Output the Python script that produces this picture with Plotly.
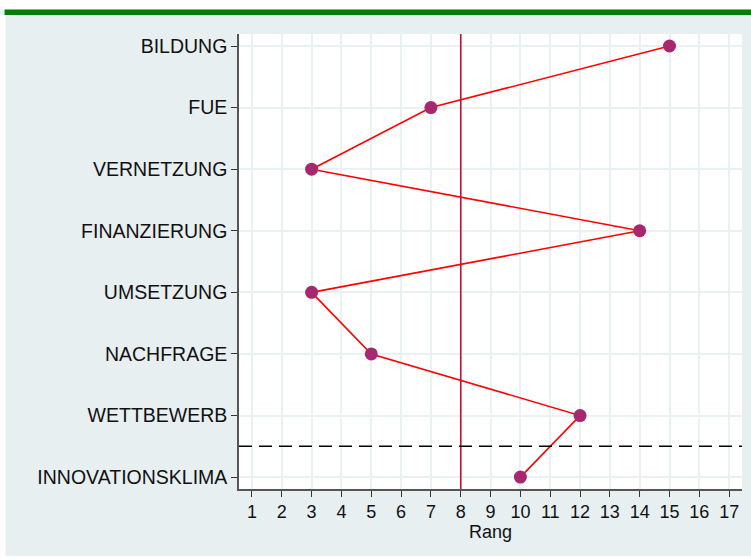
import plotly.graph_objects as go

# categories from bottom to top
categories = ['INNOVATIONSKLIMA', 'WETTBEWERB', 'NACHFRAGE', 'UMSETZUNG',
              'FINANZIERUNG', 'VERNETZUNG', 'FUE', 'BILDUNG']
rang = [10, 12, 5, 3, 14, 3, 7, 15]
x_ticks = list(range(1, 18))
rang_ref = 8

bg = '#e8eff1'
grid = '#eaf1f3'

fig = go.Figure()

fig.add_trace(go.Scatter(
    x=rang,
    y=categories,
    mode='lines+markers',
    line=dict(color='#ff0000', width=1.6),
    marker=dict(color='#a8286f', size=13),
    hoverinfo='skip',
    showlegend=False,
))

# reference lines
fig.add_shape(type='line', xref='x', yref='paper', x0=rang_ref, x1=rang_ref, y0=0, y1=1,
              line=dict(color='#c8102e', width=1.6))
fig.add_shape(type='line', xref='paper', yref='y', x0=0, x1=1, y0=0.5, y1=0.5,
              line=dict(color='#000000', width=1.5, dash='13px,7px'))

# frame pieces outside the plot area (plot area: 238.5..741.7 x 34..489.3 px)
fig.add_shape(type='rect', xref='paper', yref='paper', x0=-0.5, x1=1.05, y0=1.0536, y1=1.1,
              fillcolor='white', line_width=0, layer='below')
fig.add_shape(type='rect', xref='paper', yref='paper', x0=-0.466, x1=1.05, y0=1.0417, y1=1.0536,
              fillcolor='#008000', line_width=0, layer='below')
fig.add_shape(type='rect', xref='paper', yref='paper', x0=-0.5, x1=-0.464, y0=-0.2, y1=1.0417,
              fillcolor='white', line_width=0, layer='below')
fig.add_shape(type='rect', xref='paper', yref='paper', x0=-0.5, x1=1.05, y0=-0.2, y1=-0.147,
              fillcolor='white', line_width=0, layer='below')

fig.update_xaxes(
    range=[0.565, 17.43],
    tickvals=x_ticks,
    ticks='outside', ticklen=6, tickwidth=1.2, tickcolor='#333',
    showline=True, linecolor='#555', linewidth=1.5,
    showgrid=True, gridcolor=grid, gridwidth=2,
    zeroline=False,
    tickfont=dict(size=18),
    title=dict(text='Rang', standoff=3, font=dict(size=18)),
)
fig.update_yaxes(
    type='category',
    categoryorder='array', categoryarray=categories,
    range=[-0.193, 7.195],
    ticks='outside', ticklen=6, tickwidth=1.2, tickcolor='#333',
    showline=True, linecolor='#555', linewidth=1.5,
    showgrid=True, gridcolor=grid, gridwidth=2,
    zeroline=False,
    tickfont=dict(size=19.5),
)

fig.update_layout(
    width=751, height=558,
    margin=dict(l=238.5, r=9.3, t=34, b=68.7),
    paper_bgcolor=bg,
    plot_bgcolor='white',
    font=dict(family='Liberation Sans, Arial, sans-serif', size=18, color='#111'),
)

# drop the default body margin so the figure sits at the page corner
fig.write_html('out.html', config={'displayModeBar': False},
               post_script="document.body.style.margin='0';")
